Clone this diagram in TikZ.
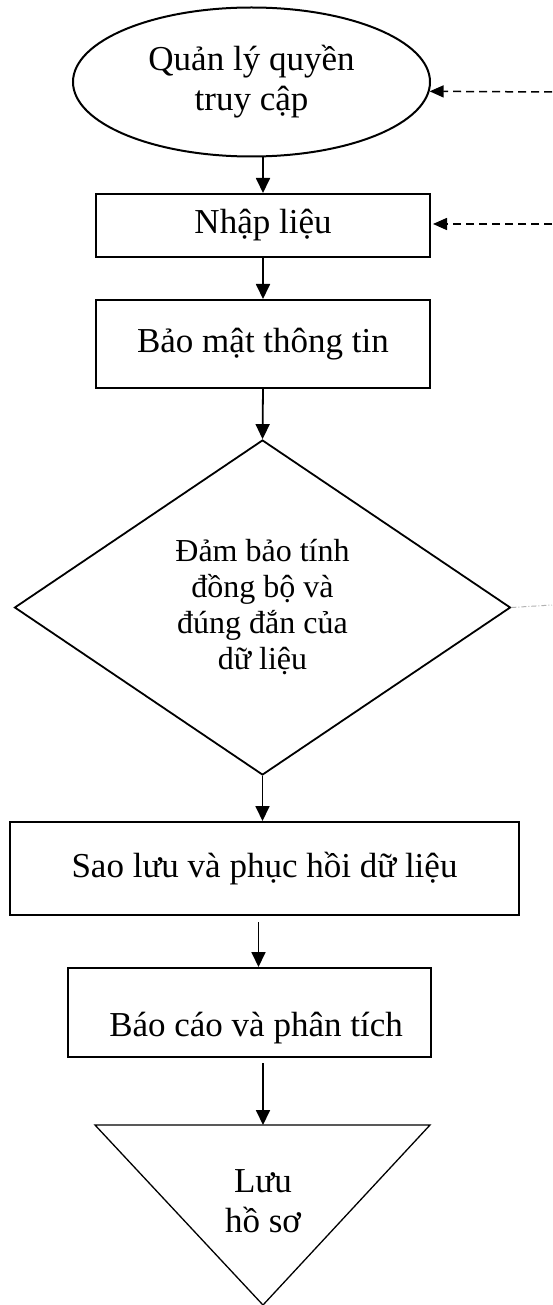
\documentclass[tikz,border=0pt]{standalone}
\usepackage{fontspec}
\setmainfont{Liberation Serif}
\usetikzlibrary{shapes.geometric,arrows.meta}
\begin{document}
\begin{tikzpicture}[x=1pt,y=-1pt,
 box/.style={draw,line width=2pt,inner sep=0pt,font=\fontsize{35}{40}\selectfont,align=center},
 txt/.style={inner sep=0pt,font=\fontsize{35}{40}\selectfont,align=center},
 flow/.style={line width=1.8pt,-{Triangle[length=15pt,width=14pt]}},
 ext/.style={line width=1.5pt,dash pattern=on 8pt off 5pt,-{Triangle[length=14pt,width=12pt]}},
]
\useasboundingbox (0,0) rectangle (552,1305);
\node[box,ellipse,minimum width=357pt,minimum height=149pt] (ql) at (251.5,82) {Quản lý quyền\\truy cập};
\node[box,minimum width=334pt,minimum height=63pt] (nl) at (263,225.5) {Nhập liệu};
\node[box,minimum width=334pt,minimum height=88pt] (bm) at (263,344) {Bảo mật thông tin};
\node[box,diamond,line width=1.8pt,minimum width=496pt,minimum height=335pt,font=\fontsize{32}{36}\selectfont] (db) at (262.5,607.5) {Đảm bảo tính\\đồng bộ và\\đúng đắn của\\dữ liệu};
\node[box,minimum width=509pt,minimum height=93pt] (sl) at (264.5,868.5) {Sao lưu và phục hồi dữ liệu};
\node[box,minimum width=363pt,minimum height=89pt] (bc) at (249.5,1012.5) {};
\node[txt] (bct) at (256,1028) {Báo cáo và phân tích};
\coordinate (ltop) at (263,1125);
\coordinate (lleft) at (95,1125);
\coordinate (lright) at (430,1125);
\coordinate (lapex) at (263,1305);
\draw[line width=1.3pt] (lleft) -- (lright) -- (lapex) -- cycle;
\node[txt] (lhs) at (263,1201) {Lưu\\hồ sơ};
% flow arrows
\draw[flow] (ql.south -| nl.north) -- (nl.north);
\draw[flow] (nl.south) -- (bm.north);
\draw[flow] (bm.south) -- (db.north);
\draw[flow] (db.south) -- (sl.north -| db.south);
\draw[flow] ([xshift=-6pt,yshift=-6pt]sl.south) -- ([xshift=-6pt]sl.south |- bc.north);
\draw[flow] ([yshift=-5pt]bc.south -| ltop) -- (ltop);
% external dashed arrows
\coordinate (e1) at (552,92);
\coordinate (e2) at (552,224);
\coordinate (e3) at (552,605);
\draw[ext] (e1) -- (ql.-3.3);
\draw[ext,shorten >=2pt] (e2) -- (nl.east |- e2);
\draw[gray!60,line width=1pt,dash pattern=on 5pt off 2pt on 1pt off 2pt] (db.east) -- (e3);
\end{tikzpicture}
\end{document}
